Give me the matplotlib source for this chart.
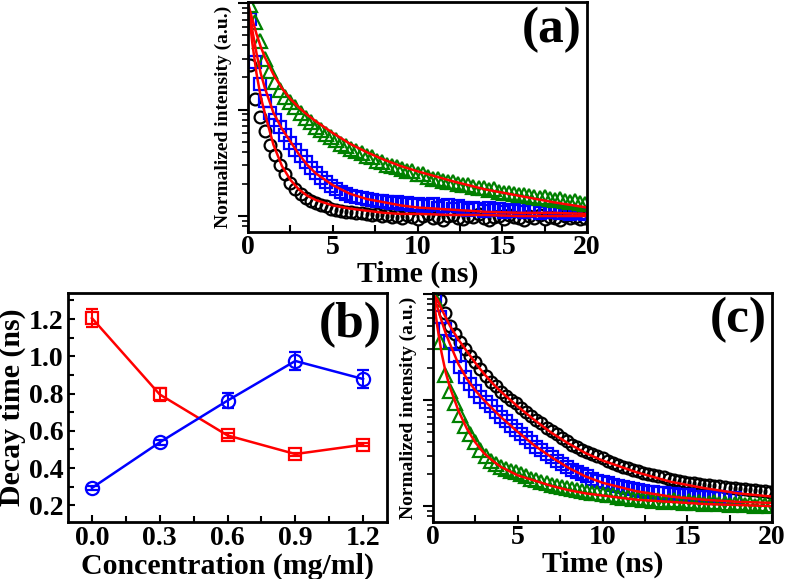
import matplotlib
matplotlib.use('Agg')
import matplotlib.pyplot as plt
import numpy as np
from matplotlib.ticker import LogLocator, NullFormatter, MultipleLocator

plt.rcParams['font.family'] = ['Liberation Serif', 'DejaVu Serif']
plt.rcParams['font.weight'] = 'bold'
plt.rcParams['axes.labelweight'] = 'bold'

# time grid of the measured decays (ns)
t_data = np.round(np.arange(0.1, 20.0, 0.3), 2)

# panel (a): log10 of normalized intensity
a_black = [-0.58, -0.90, -1.07, -1.20, -1.33, -1.43, -1.52, -1.61, -1.69, -1.75,
           -1.79, -1.83, -1.86, -1.88, -1.90, -1.91, -1.93, -1.94, -1.95, -1.96,
           -1.96, -1.97, -1.97, -1.98, -1.99, -1.98, -2.00, -1.99, -2.01, -2.00,
           -2.02, -1.99, -2.01, -2.03, -2.00, -1.98, -2.02, -2.01, -2.04, -2.00,
           -1.99, -2.02, -2.03, -2.00, -2.01, -1.98, -2.02, -2.04, -2.01, -2.00,
           -2.03, -1.99, -2.01, -2.02, -2.04, -2.00, -2.02, -1.99, -2.03, -2.01,
           -2.02, -2.04, -2.00, -2.02, -2.01, -2.03, -2.02]
a_blue = [-0.15, -0.55, -0.76, -0.92, -1.03, -1.10, -1.16, -1.24, -1.31, -1.38,
          -1.44, -1.49, -1.55, -1.60, -1.64, -1.68, -1.72, -1.75, -1.77, -1.79,
          -1.81, -1.82, -1.83, -1.84, -1.85, -1.86, -1.86, -1.87, -1.88, -1.87,
          -1.89, -1.88, -1.90, -1.89, -1.91, -1.90, -1.89, -1.92, -1.91, -1.90,
          -1.93, -1.91, -1.92, -1.94, -1.92, -1.93, -1.95, -1.92, -1.94, -1.93,
          -1.96, -1.94, -1.95, -1.93, -1.96, -1.95, -1.94, -1.97, -1.95, -1.96,
          -1.94, -1.97, -1.96, -1.98, -1.96, -1.97, -1.98]
a_green = [-0.02, -0.18, -0.36, -0.53, -0.64, -0.74, -0.82, -0.88, -0.93, -0.98,
           -1.03, -1.08, -1.12, -1.16, -1.19, -1.23, -1.26, -1.29, -1.32, -1.34,
           -1.37, -1.39, -1.41, -1.44, -1.45, -1.48, -1.49, -1.52, -1.53, -1.54,
           -1.56, -1.58, -1.58, -1.61, -1.61, -1.63, -1.65, -1.65, -1.67, -1.68,
           -1.68, -1.70, -1.71, -1.71, -1.73, -1.74, -1.74, -1.76, -1.75, -1.77,
           -1.78, -1.78, -1.79, -1.80, -1.80, -1.81, -1.82, -1.83, -1.82, -1.84,
           -1.85, -1.84, -1.86, -1.87, -1.86, -1.88, -1.89]

# panel (c)
c_black = [-0.01, -0.06, -0.18, -0.30, -0.38, -0.45, -0.52, -0.58, -0.64, -0.71,
           -0.77, -0.83, -0.87, -0.92, -0.96, -1.00, -1.03, -1.07, -1.11, -1.15,
           -1.19, -1.22, -1.26, -1.29, -1.32, -1.36, -1.39, -1.42, -1.44, -1.47,
           -1.49, -1.51, -1.53, -1.55, -1.57, -1.59, -1.61, -1.63, -1.64, -1.66,
           -1.67, -1.69, -1.70, -1.71, -1.72, -1.73, -1.74, -1.75, -1.76, -1.77,
           -1.78, -1.78, -1.79, -1.80, -1.80, -1.81, -1.81, -1.82, -1.83, -1.83,
           -1.84, -1.84, -1.85, -1.85, -1.86, -1.86, -1.87]
c_blue = [-0.02, -0.22, -0.33, -0.45, -0.58, -0.69, -0.78, -0.85, -0.91, -0.97,
          -1.02, -1.06, -1.11, -1.16, -1.20, -1.24, -1.28, -1.32, -1.36, -1.40,
          -1.44, -1.47, -1.51, -1.54, -1.57, -1.60, -1.63, -1.66, -1.68, -1.70,
          -1.72, -1.74, -1.76, -1.77, -1.78, -1.80, -1.81, -1.82, -1.83, -1.84,
          -1.85, -1.86, -1.87, -1.87, -1.88, -1.88, -1.89, -1.89, -1.90, -1.90,
          -1.90, -1.91, -1.91, -1.91, -1.91, -1.92, -1.91, -1.92, -1.92, -1.92]
c_green = [-0.05, -0.45, -0.76, -0.91, -1.03, -1.14, -1.24, -1.32, -1.40, -1.47,
           -1.53, -1.57, -1.60, -1.63, -1.65, -1.67, -1.68, -1.70, -1.72, -1.74,
           -1.75, -1.77, -1.78, -1.80, -1.81, -1.82, -1.83, -1.84, -1.85, -1.86,
           -1.87, -1.88, -1.88, -1.89, -1.90, -1.90, -1.91, -1.92, -1.91, -1.93,
           -1.92, -1.94, -1.93, -1.95, -1.94, -1.96, -1.95, -1.94, -1.96, -1.97,
           -1.95, -1.97, -1.96, -1.98, -1.97, -1.96, -1.98, -1.97, -1.99, -1.98,
           -1.97, -1.99, -1.98, -2.00, -1.98, -1.99, -2.00]

# fitted curves (red), log10 values at fit times
t_fit = [0, 0.25, 0.5, 0.75, 1, 1.5, 2, 2.5, 3, 3.5, 4, 5, 6, 7, 8, 9, 10, 12, 14, 16, 18, 20]
fit_a_black = [0, -0.37, -0.66, -0.88, -1.04, -1.33, -1.53, -1.66, -1.75, -1.81, -1.85,
               -1.90, -1.93, -1.95, -1.97, -1.98, -1.98, -1.99, -1.99, -2.0, -2.0, -2.0]
fit_a_blue = [0, -0.25, -0.47, -0.66, -0.80, -1.03, -1.18, -1.30, -1.42, -1.52, -1.60,
              -1.71, -1.79, -1.84, -1.87, -1.90, -1.92, -1.94, -1.96, -1.97, -1.97, -1.98]
fit_a_green = [0, -0.15, -0.29, -0.41, -0.51, -0.67, -0.80, -0.90, -0.98, -1.05, -1.11,
               -1.22, -1.32, -1.40, -1.47, -1.53, -1.58, -1.67, -1.75, -1.81, -1.87, -1.92]
fit_c_black = [0, -0.05, -0.14, -0.22, -0.30, -0.43, -0.54, -0.65, -0.75, -0.84, -0.92,
               -1.06, -1.19, -1.31, -1.41, -1.50, -1.57, -1.68, -1.77, -1.83, -1.88, -1.91]
fit_c_blue = [0, -0.12, -0.25, -0.37, -0.47, -0.66, -0.80, -0.91, -1.00, -1.08, -1.16,
              -1.30, -1.43, -1.54, -1.64, -1.72, -1.78, -1.86, -1.91, -1.94, -1.96, -1.97]
fit_c_green = [0, -0.30, -0.55, -0.74, -0.88, -1.10, -1.27, -1.40, -1.50, -1.57, -1.63,
               -1.71, -1.76, -1.81, -1.85, -1.88, -1.90, -1.94, -1.96, -1.98, -1.99, -2.0]

# panel (b): decay times
conc = [0.0, 0.3, 0.6, 0.9, 1.2]
conc_labels = ['0.0', '0.3', '0.6', '0.9', '1.2']
tau_red = [1.205, 0.795, 0.575, 0.475, 0.525]
tau_red_err = [0.047, 0.033, 0.012, 0.008, 0.008]
tau_blue = [0.293, 0.538, 0.762, 0.975, 0.878]
tau_blue_err = [0.01, 0.012, 0.042, 0.048, 0.047]

green = '#008000'
fig = plt.figure(figsize=(7.87, 5.79), dpi=100)
ax_a = fig.add_axes([248/787, 1-232/579, 339/787, 230/579])
ax_b = fig.add_axes([68/787, 1-522/579, 319/787, 229/579])
ax_c = fig.add_axes([433/787, 1-522/579, 339/787, 229/579])


def bold_ticks(ax):
    for lbl in ax.get_xticklabels() + ax.get_yticklabels():
        lbl.set_fontweight('bold')


def decay_panel(ax, series, fits, letter):
    (blk, blu, grn) = series
    ax.plot(t_data[:len(blk)], 10**np.array(blk), 'o', mfc='none', mec='black', ms=8.5, mew=1.6)
    ax.plot(t_data[:len(blu)], 10**np.array(blu), 's', mfc='none', mec='blue', ms=8, mew=1.6)
    ax.plot(t_data[:len(grn)], 10**np.array(grn), '^', mfc='none', mec=green, ms=10, mew=1.6)
    for f in fits:
        ax.plot(t_fit, 10**np.array(f), '-', color='red', lw=1.8)
    ax.set_yscale('log')
    ax.set_ylim(10**-2.15, 10**0.01)
    ax.set_xlim(0, 20)
    ax.yaxis.set_major_locator(LogLocator(base=10, numticks=10))
    ax.yaxis.set_minor_locator(LogLocator(base=10, subs=np.arange(2, 10), numticks=10))
    ax.yaxis.set_major_formatter(NullFormatter())
    ax.yaxis.set_minor_formatter(NullFormatter())
    ax.xaxis.set_major_locator(MultipleLocator(5))
    ax.xaxis.set_minor_locator(MultipleLocator(2.5))
    ax.tick_params(axis='y', which='major', direction='out', length=7, width=1.5)
    ax.tick_params(axis='y', which='minor', direction='out', length=4, width=1.2)
    ax.tick_params(axis='x', which='both', direction='in', length=5, width=1.5,
                   labelsize=20, pad=2)
    ax.set_xlabel('Time (ns)', fontsize=21.5, labelpad=1)
    ax.set_ylabel('Normalized intensity (a.u.)', fontsize=14, labelpad=1)
    ax.text(0.985, 0.88, letter, transform=ax.transAxes, ha='right', va='center',
            fontsize=37, fontweight='bold')
    bold_ticks(ax)
    for s in ax.spines.values():
        s.set_linewidth(2)


decay_panel(ax_a, (a_black, a_blue, a_green), (fit_a_black, fit_a_blue, fit_a_green), '(a)')
decay_panel(ax_c, (c_black, c_blue, c_green), (fit_c_black, fit_c_blue, fit_c_green), '(c)')

# panel (b)
ax_b.errorbar(conc, tau_red, yerr=tau_red_err, color='red', marker='s', ms=8,
              mfc='none', mew=1.6, lw=1.8, capsize=4, elinewidth=1.5)
ax_b.errorbar(conc, tau_blue, yerr=tau_blue_err, color='blue', marker='o', ms=9.5,
              mfc='none', mew=1.6, lw=1.8, capsize=4, elinewidth=1.5)
ax_b.set_xlim(-0.106, 1.306)
ax_b.set_ylim(0.11, 1.34)
ax_b.set_xticks(conc)
ax_b.set_xticklabels(conc_labels)
ax_b.xaxis.set_minor_locator(MultipleLocator(0.15))
ax_b.yaxis.set_major_locator(MultipleLocator(0.2))
ax_b.yaxis.set_minor_locator(MultipleLocator(0.1))
ax_b.yaxis.set_major_formatter(plt.FormatStrFormatter('%.1f'))
ax_b.tick_params(which='both', direction='in', width=1.5, labelsize=20, pad=3)
ax_b.tick_params(which='major', length=5)
ax_b.tick_params(which='minor', length=4)
ax_b.set_xlabel('Concentration (mg/ml)', fontsize=21.5, labelpad=1)
ax_b.set_ylabel('Decay time (ns)', fontsize=21.5, labelpad=2)
ax_b.text(0.984, 0.86, '(b)', transform=ax_b.transAxes, ha='right', va='center',
          fontsize=37, fontweight='bold')
bold_ticks(ax_b)
for s in ax_b.spines.values():
    s.set_linewidth(2)

fig.savefig('out.png', dpi=100)
